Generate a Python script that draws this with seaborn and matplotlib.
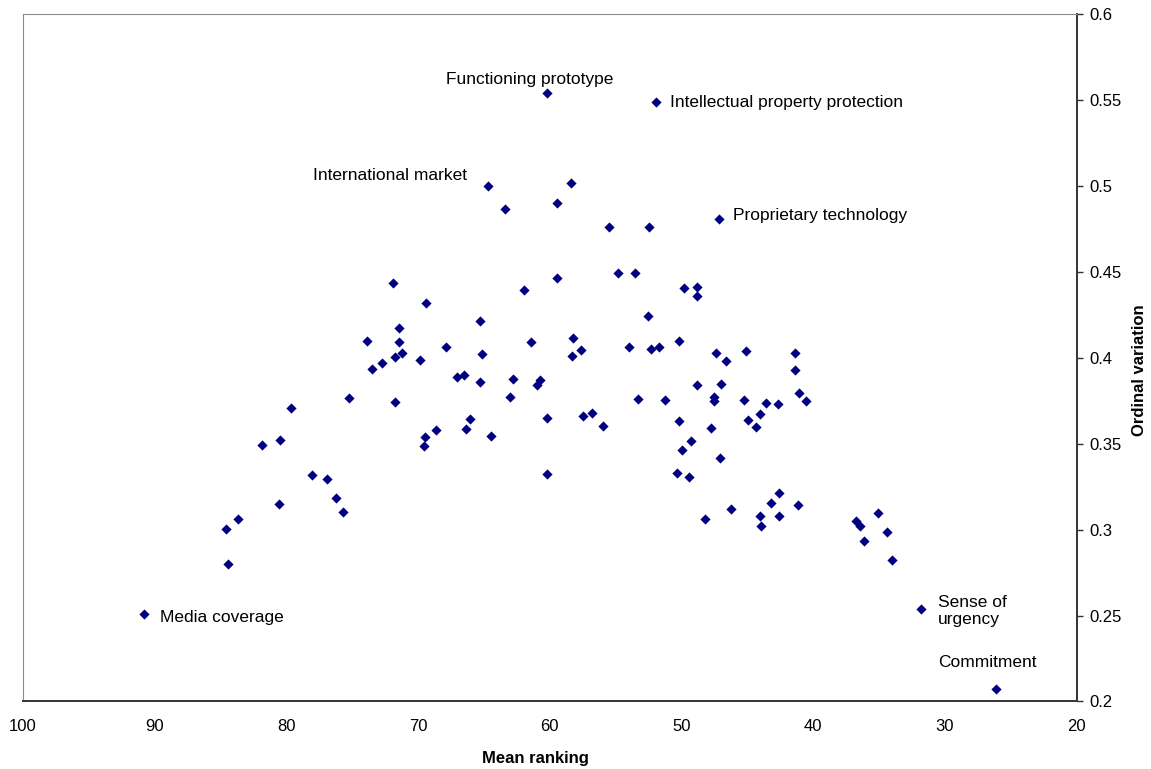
import matplotlib
matplotlib.use("Agg")
import matplotlib.pyplot as plt
import matplotlib.ticker as mticker
import seaborn as sns
import pandas as pd

# средний ранг (ось X, обратная)
mean_ranking = [
    90.84, 84.46, 84.61, 83.70, 80.56, 81.85, 80.49, 79.65, 78.06, 76.92,
    76.23, 75.70, 75.25, 73.88, 73.50, 72.74, 71.91, 71.45, 71.47, 71.78,
    71.22, 71.75, 69.83, 69.40, 69.48, 69.55, 68.66, 67.86, 67.02, 66.51,
    66.36, 66.06, 65.28, 65.15, 65.30, 64.44, 64.67, 63.40, 63.02, 62.79,
    61.98, 61.45, 60.99, 60.72, 60.24, 60.19, 59.45, 59.45, 58.41, 58.26,
    58.31, 57.63, 57.50, 56.77, 60.24, 55.94, 55.50, 54.86, 54.02, 53.57,
    53.28, 52.52, 52.44, 52.34, 51.91, 51.71, 51.24, 50.36, 50.21, 50.19,
    49.98, 49.83, 49.45, 49.30, 48.85, 48.82, 48.85, 48.19, 47.78, 47.51,
    47.55, 47.40, 47.18, 47.05, 47.00, 46.62, 46.26, 45.28, 45.13, 44.95,
    44.34, 44.06, 44.04, 43.96, 43.61, 43.18, 42.65, 42.62, 42.57, 41.38,
    41.38, 41.15, 41.06, 40.57, 36.75, 36.47, 36.14, 35.06, 34.37, 34.02,
    31.81, 26.12,
]

# порядковая вариация (ось Y)
ordinal_variation = [
    0.2507, 0.2798, 0.3006, 0.3062, 0.3149, 0.3493, 0.3524, 0.3708, 0.3318, 0.3295,
    0.3184, 0.3103, 0.3766, 0.4098, 0.3935, 0.3972, 0.4438, 0.4174, 0.4094, 0.4007,
    0.4030, 0.3743, 0.3986, 0.4321, 0.3539, 0.3487, 0.3580, 0.4062, 0.3891, 0.3902,
    0.3584, 0.3642, 0.4217, 0.4021, 0.3858, 0.3545, 0.4999, 0.4867, 0.3772, 0.3877,
    0.4394, 0.4091, 0.3840, 0.3871, 0.3326, 0.3650, 0.4904, 0.4465, 0.5018, 0.4118,
    0.4013, 0.4044, 0.3663, 0.3679, 0.5541, 0.3606, 0.4762, 0.4497, 0.4062, 0.4496,
    0.3758, 0.4244, 0.4762, 0.4051, 0.5488, 0.4065, 0.3752, 0.3332, 0.3634, 0.4101,
    0.3462, 0.4409, 0.3308, 0.3516, 0.4415, 0.4360, 0.3840, 0.3062, 0.3592, 0.3774,
    0.3747, 0.4029, 0.4811, 0.3417, 0.3848, 0.3982, 0.3118, 0.3753, 0.4040, 0.3640,
    0.3598, 0.3672, 0.3079, 0.3021, 0.3736, 0.3153, 0.3730, 0.3212, 0.3081, 0.4029,
    0.3930, 0.3144, 0.3797, 0.3747, 0.3050, 0.3023, 0.2932, 0.3097, 0.2986, 0.2825,
    0.2538, 0.2072,
]

# подписанные точки: название -> индекс в массивах
named_points = {
    "Media coverage": 0,
    "International market": 36,
    "Functioning prototype": 54,
    "Intellectual property protection": 64,
    "Proprietary technology": 82,
    "Sense of\nurgency": 110,
    "Commitment": 111,
}

x_ticks = [100, 90, 80, 70, 60, 50, 40, 30, 20]
y_ticks = [0.2, 0.25, 0.3, 0.35, 0.4, 0.45, 0.5, 0.55, 0.6]

df = pd.DataFrame({"Mean ranking": mean_ranking,
                   "Ordinal variation": ordinal_variation})

sns.set_style("white")
plt.rcParams["font.family"] = ["Liberation Sans", "DejaVu Sans"]

fig = plt.figure(figsize=(11.51, 7.69), dpi=100)
ax = fig.add_axes([0.020, 0.0879, 0.9154, 0.8934])

sns.scatterplot(data=df, x="Mean ranking", y="Ordinal variation", ax=ax,
                marker="D", color="#000080", s=27, linewidth=0)

# смещения подписей в пунктах: (dx, dy, ha, va)
offsets = {
    "Media coverage": (12, -2, "left", "center"),
    "International market": (-15, 7.5, "right", "center"),
    "Functioning prototype": (-12.5, 10, "center", "center"),
    "Intellectual property protection": (10, 0, "left", "center"),
    "Proprietary technology": (10, 2.5, "left", "center"),
    "Sense of\nurgency": (12, -1.5, "left", "center"),
    "Commitment": (-42, 19, "left", "center"),
}
for name, i in named_points.items():
    dx, dy, ha, va = offsets[name]
    ax.annotate(name, (mean_ranking[i], ordinal_variation[i]),
                xytext=(dx, dy), textcoords="offset points",
                ha=ha, va=va, fontsize=12.5, color="black",
                linespacing=1.15)

ax.set_xlim(100, 20)
ax.set_ylim(0.2, 0.6)
ax.set_xticks(x_ticks)
ax.set_yticks(y_ticks)
ax.yaxis.set_major_formatter(mticker.FuncFormatter(lambda v, p: f"{v:g}"))

ax.yaxis.tick_right()
ax.yaxis.set_label_position("right")
ax.tick_params(axis="both", direction="out", length=4, width=1,
               color="#333333", labelsize=12, labelcolor="black")
ax.tick_params(axis="x", pad=9)
ax.tick_params(axis="y", pad=5)

for side in ["left", "top"]:
    ax.spines[side].set_color("#8c8c8c")
    ax.spines[side].set_linewidth(0.8)
for side in ["bottom", "right"]:
    ax.spines[side].set_color("#333333")
    ax.spines[side].set_linewidth(1.4)

ax.set_xlabel("Mean ranking", fontsize=12, fontweight="bold", color="black")
ax.set_ylabel("Ordinal variation", fontsize=12, fontweight="bold",
              color="black")
ax.xaxis.set_label_coords(0.486, -0.072)
ax.yaxis.set_label_coords(1.053, 0.482)
ax.grid(False)

fig.savefig("out.png", dpi=100)
